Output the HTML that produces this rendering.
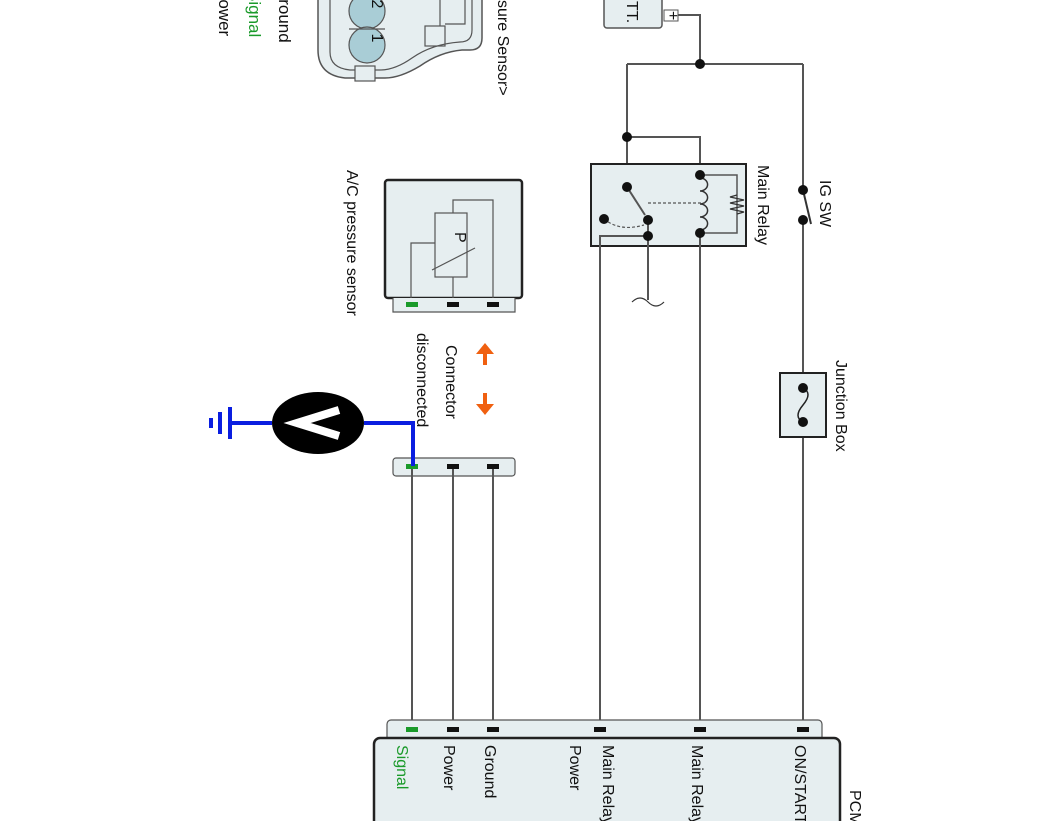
<!DOCTYPE html>
<html><head><meta charset="utf-8"><style>
html,body{margin:0;padding:0;background:#fff;width:1062px;height:821px;overflow:hidden}
svg{display:block}
text{font-family:"Liberation Sans",sans-serif;font-size:16px;fill:#111}
</style></head><body>
<svg width="1062" height="821" viewBox="0 0 1062 821" xmlns="http://www.w3.org/2000/svg">
<g fill="none" stroke="#555" stroke-width="2">
<!-- top-left connector drawing -->
<path d="M318,-10 L318,50 Q318,75 345,78 L385,78 Q400,78 420,66 Q440,52 462,50 L470,50 Q482,50 482,38 L482,-10" fill="#e6eef0" stroke="#555" stroke-width="1.5"/>
<path d="M330,-10 L330,52 Q330,68 350,70 L380,70 Q395,70 412,58 Q432,44 460,42 Q472,42 472,30 L472,-10" stroke-width="1.2"/>
<rect x="355" y="66" width="20" height="15" fill="#e6eef0" stroke-width="1.2"/>
<rect x="425" y="26" width="20" height="20" stroke-width="1.2"/>
<path d="M440,-5 L440,26 M450,-5 L465,-5 L465,24 L445,24" stroke-width="1.2"/>
<circle cx="367" cy="11" r="18" fill="#a9cdd6" stroke="#555" stroke-width="1.2"/>
<circle cx="367" cy="45" r="18" fill="#a9cdd6" stroke="#555" stroke-width="1.2"/>
<line x1="349" y1="29" x2="385" y2="29" stroke-width="1.2"/>

<!-- BATT -->
<rect x="604" y="-10" width="58" height="38" rx="3" fill="#e6eef0" stroke-width="1.5"/>
<rect x="664" y="10" width="14" height="11" fill="#fff" stroke-width="1"/>
<path d="M678,15 L700,15 L700,64"/>
<path d="M627,64 L803,64"/>
<path d="M627,64 L627,187"/>
<path d="M627,137 L700,137 L700,175"/>

<!-- relay -->
<rect x="591" y="164" width="155" height="82" fill="#e6eef0" stroke="#222" stroke-width="2"/>
<path d="M627,187 L645,215"/>
<path d="M700,175 L737,175 L737,233 L700,233" stroke-width="1.5"/>
<path d="M700,178 a7,6 0 0 1 0,13 a7,6 0 0 1 0,13 a7,6 0 0 1 0,13 a7,6 0 0 1 0,13" stroke="#333" stroke-width="1.5"/>
<path d="M737,195 L730,197 L744,200 L730,203 L744,206 L730,209 L744,212 L737,214" stroke="#333" stroke-width="1.2"/>
<path d="M648,203 L705,203" stroke-dasharray="3,2" stroke-width="1.2"/>
<path d="M604,219 Q620,232 644,225" stroke-dasharray="3,2" stroke-width="1.2"/>
<path d="M600,730 L600,236 L648,236"/>
<path d="M648,220 L648,300"/>
<path d="M632,302 q8,-8 16,0 q8,8 16,0" stroke="#333" stroke-width="1.2"/>
<path d="M700,233 L700,730"/>

<!-- IG SW and junction -->
<path d="M803,64 L803,190 M803,220 L803,730"/>
<path d="M803,190 L811,224" stroke="#333"/>
<rect x="780" y="373" width="46" height="64" fill="#e6eef0" stroke="#222" stroke-width="2"/>
<path d="M803,388 q10,5 0,17 q-10,12 0,17" stroke="#222" stroke-width="1.5"/>

<!-- A/C sensor -->
<rect x="385" y="180" width="137" height="118" rx="3" fill="#e6eef0" stroke="#222" stroke-width="2.5"/>
<path d="M393,298 L393,312 L515,312 L515,298" fill="#e6eef0" stroke-width="1.2"/>
<path d="M411,298 L411,243 L435,243 M453,298 L453,277 M453,213 L453,200 L493,200 L493,298" stroke-width="1.2"/>
<rect x="435" y="213" width="32" height="64" stroke-width="1.2"/>
<path d="M432,270 L475,248" stroke-width="1.2"/>

<!-- lower connector -->
<rect x="393" y="458" width="122" height="18" rx="3" fill="#e6eef0" stroke-width="1.2"/>
<path d="M412,467 L412,730 M453,467 L453,730 M493,467 L493,730"/>

<!-- PCM -->
<rect x="387" y="720" width="435" height="30" rx="4" fill="#e6eef0" stroke-width="1.2"/>
<rect x="374" y="738" width="466" height="100" rx="6" fill="#e6eef0" stroke="#222" stroke-width="2.5"/>
</g>

<!-- dots -->
<g fill="#111">
<circle cx="700" cy="64" r="5"/><circle cx="627" cy="137" r="5"/>
<circle cx="627" cy="187" r="5"/><circle cx="648" cy="220" r="5"/><circle cx="648" cy="236" r="5"/>
<circle cx="604" cy="219" r="5"/><circle cx="700" cy="175" r="5"/><circle cx="700" cy="233" r="5"/>
<circle cx="803" cy="190" r="5"/><circle cx="803" cy="220" r="5"/>
<circle cx="803" cy="388" r="5"/><circle cx="803" cy="422" r="5"/>
<rect x="447" y="302" width="12" height="5"/><rect x="487" y="302" width="12" height="5"/>
<rect x="447" y="464" width="12" height="5"/><rect x="487" y="464" width="12" height="5"/>
<rect x="447" y="727" width="12" height="5"/><rect x="487" y="727" width="12" height="5"/>
<rect x="594" y="727" width="12" height="5"/><rect x="694" y="727" width="12" height="5"/>
<rect x="797" y="727" width="12" height="5"/>
</g>
<g fill="#1a9a2a">
<rect x="406" y="302" width="12" height="5"/><rect x="406" y="464" width="12" height="5"/><rect x="406" y="727" width="12" height="5"/>
</g>

<!-- voltmeter -->
<g stroke="#0a1ee0" stroke-width="4" fill="none">
<path d="M364,423 L413,423 L413,466"/>
<path d="M272,423 L230,423"/>
<path d="M230,407 L230,439 M220,412 L220,434 M211,418 L211,428"/>
</g>
<ellipse cx="318" cy="423" rx="46" ry="31" fill="#000"/>
<path d="M339,410 L297,423 L339,436" fill="none" stroke="#fff" stroke-width="8" stroke-linejoin="miter"/>

<!-- orange arrows -->
<g fill="#f06010" stroke="#f06010" stroke-width="4">
<path d="M485,365 L485,352"/><path d="M476,354 L485,343 L494,354 Z" stroke="none"/>
<path d="M485,393 L485,406"/><path d="M476,404 L485,415 L494,404 Z" stroke="none"/>
</g>

<!-- text -->
<g>
<text transform="translate(249,-10) rotate(90)" style="fill:#1a9a2a;font-size:17px">Signal</text>
<text transform="translate(219,-12) rotate(90)" style="font-size:17px">Power</text>
<text transform="translate(279,-14) rotate(90)" style="font-size:17px">Ground</text>
<text transform="translate(372,4) rotate(90)" text-anchor="middle" font-size="15">2</text>
<text transform="translate(372,38) rotate(90)" text-anchor="middle" font-size="15">1</text>
<text transform="translate(498,-8) rotate(90)">ssure Sensor&gt;</text>
<text transform="translate(627,1) rotate(90)" font-size="18">TT.</text>
<text transform="translate(668,11) rotate(90)" font-size="11">+</text>
<text transform="translate(758,165) rotate(90)">Main Relay</text>
<text transform="translate(820,180) rotate(90)">IG SW</text>
<text transform="translate(836,360) rotate(90)">Junction Box</text>
<text transform="translate(347,170) rotate(90)">A/C pressure sensor</text>
<text transform="translate(446,345) rotate(90)">Connector</text>
<text transform="translate(417,333) rotate(90)">disconnected</text>
<text transform="translate(455,232) rotate(90)" font-size="15">P</text>
<text transform="translate(397,745) rotate(90)" style="fill:#1a9a2a">Signal</text>
<text transform="translate(444,745) rotate(90)">Power</text>
<text transform="translate(485,745) rotate(90)">Ground</text>
<text transform="translate(603,745) rotate(90)">Main Relay</text>
<text transform="translate(570,745) rotate(90)">Power</text>
<text transform="translate(692,745) rotate(90)">Main Relay</text>
<text transform="translate(795,745) rotate(90)">ON/START</text>
<text transform="translate(850,790) rotate(90)">PCM</text>
</g>
</svg>
</body></html>
